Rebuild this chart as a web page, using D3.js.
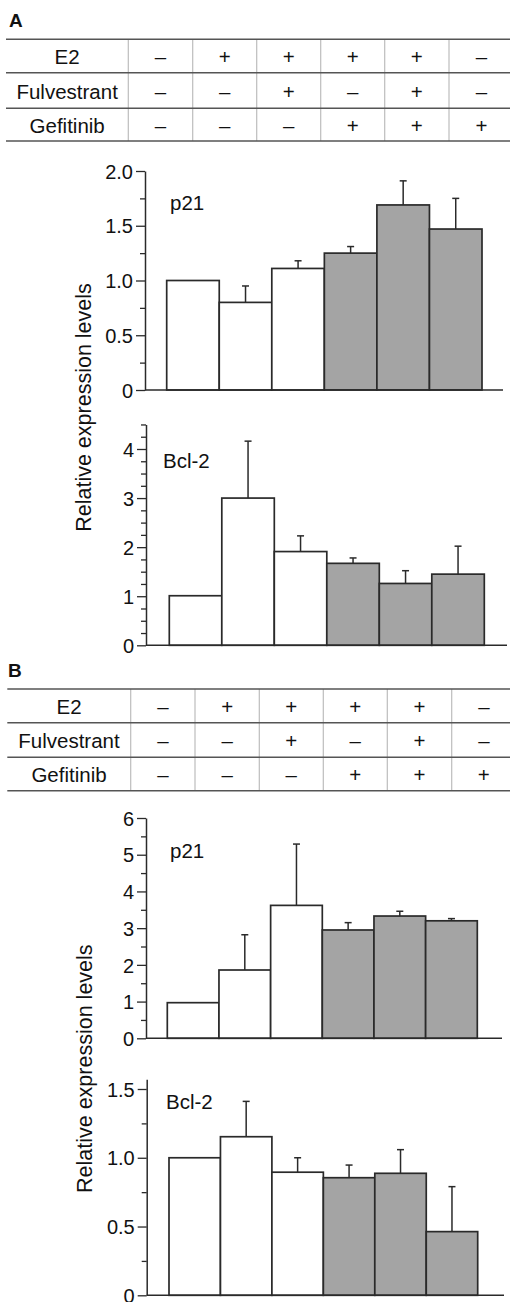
<!DOCTYPE html>
<html>
<head>
<meta charset="utf-8">
<script src="https://cdn.jsdelivr.net/npm/d3@7"></script>
<style>
  body { margin: 0; background: #fff; }
  text { font-family: "Liberation Sans", Arial, Helvetica, sans-serif; fill: #111; }
</style>
</head>
<body>
<div id="fig"></div>
<script>
// treatment table (same for A and B)
var treatments = ["E2", "Fulvestrant", "Gefitinib"];
var signs = [
  ["–", "+", "+", "+", "+", "–"],
  ["–", "–", "+", "–", "+", "–"],
  ["–", "–", "–", "+", "+", "+"]
];
var gefitinib = [false, false, false, true, true, true];

// panel A
var aP21 = [1.0, 0.80, 1.11, 1.25, 1.69, 1.47];
var aP21Err = [0, 0.15, 0.07, 0.06, 0.22, 0.28];
var aBcl2 = [1.01, 3.0, 1.91, 1.67, 1.26, 1.45];
var aBcl2Err = [0, 1.16, 0.32, 0.11, 0.26, 0.57];

// panel B
var bP21 = [0.97, 1.86, 3.62, 2.95, 3.33, 3.20];
var bP21Err = [0, 0.96, 1.67, 0.20, 0.13, 0.06];
var bBcl2 = [1.0, 1.153, 0.895, 0.855, 0.887, 0.463];
var bBcl2Err = [0, 0.257, 0.105, 0.092, 0.172, 0.327];

var white = "#ffffff", gray = "#a4a4a4", ink = "#2a2a2a";

var svg = d3.select("#fig").append("svg")
  .attr("width", 510).attr("height", 1302);

function fmt(d) { return d === 0 ? "0" : d3.format(".1f")(d) }
function fmtInt(d) { return d3.format("d")(d) }

function drawTable(letter, lx, ly, rows, cols) {
  svg.append("text").attr("x", lx).attr("y", ly)
    .style("font-size", "19px").style("font-weight", "bold").text(letter);

  var g = svg.append("g");
  // vertical light lines
  g.selectAll("line.v").data(cols.slice(1, cols.length - 1)).enter().append("line")
    .attr("x1", function(d) { return d }).attr("x2", function(d) { return d })
    .attr("y1", rows[0]).attr("y2", rows[rows.length - 1])
    .style("stroke", "#bdbdbd").style("stroke-width", 1.2);
  // horizontal dark lines
  g.selectAll("line.h").data(rows).enter().append("line")
    .attr("x1", cols[0]).attr("x2", cols[cols.length - 1])
    .attr("y1", function(d) { return d }).attr("y2", function(d) { return d })
    .style("stroke", "#555").style("stroke-width", 1.4);

  treatments.forEach(function(t, r) {
    var cy = (rows[r] + rows[r + 1]) / 2 + 8;
    g.append("text").attr("x", (cols[0] + cols[1]) / 2).attr("y", cy)
      .attr("text-anchor", "middle").style("font-size", "20.5px").text(t);
    g.selectAll("text.s" + r).data(signs[r]).enter().append("text")
      .attr("x", function(d, i) { return (cols[i + 1] + cols[i + 2]) / 2 })
      .attr("y", cy)
      .attr("text-anchor", "middle").style("font-size", "20.5px")
      .text(function(d) { return d });
  });
}

function drawChart(o) {
  var g = svg.append("g");
  var y = d3.scaleLinear().domain([0, o.top]).range([o.y0, o.y0 - (o.top / o.refVal) * (o.y0 - o.yRef)]);
  var x = d3.scaleBand().domain(d3.range(o.values.length)).range(o.bars).padding(0);
  var rows = o.values.map(function(v, i) { return { i: i, v: v, e: o.errs[i] } });

  // minor ticks
  g.append("g").attr("transform", "translate(" + o.ax + ",0)")
    .call(d3.axisLeft(y).tickValues(o.minor).tickSize(5).tickSizeOuter(0).tickFormat(""))
    .call(function(s) {
      s.select(".domain").remove();
      s.selectAll("line").style("stroke", ink).style("stroke-width", 1.3);
    });
  // major ticks + axis line
  g.append("g").attr("transform", "translate(" + o.ax + ",0)")
    .call(d3.axisLeft(y).tickValues(o.major).tickSize(9).tickSizeOuter(0).tickPadding(3).tickFormat(o.format))
    .call(function(s) {
      s.select(".domain").style("stroke", ink).style("stroke-width", 1.5);
      s.selectAll("line").style("stroke", ink).style("stroke-width", 1.3);
      s.selectAll("text").style("font-size", "20px").style("fill", "#111")
        .style("font-family", '"Liberation Sans", Arial, sans-serif')
        .attr("dy", "0.36em");
    });

  // error bars (upper only)
  var err = g.selectAll("g.err").data(rows.filter(function(d) { return d.e > 0 }))
    .enter().append("g").attr("class", "err");
  err.append("line")
    .attr("x1", function(d) { return x(d.i) + x.bandwidth() / 2 })
    .attr("x2", function(d) { return x(d.i) + x.bandwidth() / 2 })
    .attr("y1", function(d) { return y(d.v) })
    .attr("y2", function(d) { return y(d.v + d.e) })
    .style("stroke", ink).style("stroke-width", 1.5);
  err.append("line")
    .attr("x1", function(d) { return x(d.i) + x.bandwidth() / 2 - 3.5 })
    .attr("x2", function(d) { return x(d.i) + x.bandwidth() / 2 + 3.5 })
    .attr("y1", function(d) { return y(d.v + d.e) })
    .attr("y2", function(d) { return y(d.v + d.e) })
    .style("stroke", ink).style("stroke-width", 1.5);

  // bars
  g.selectAll("rect").data(rows).enter().append("rect")
    .attr("x", function(d) { return x(d.i) })
    .attr("width", x.bandwidth())
    .attr("y", function(d) { return y(d.v) })
    .attr("height", function(d) { return o.y0 - y(d.v) })
    .style("fill", function(d) { return gefitinib[d.i] ? gray : white })
    .style("stroke", ink).style("stroke-width", 1.7);

  // baseline
  g.append("line").attr("x1", o.ax).attr("x2", o.xEnd)
    .attr("y1", o.y0).attr("y2", o.y0)
    .style("stroke", ink).style("stroke-width", 1.5);

  g.append("text").attr("x", o.label[0]).attr("y", o.label[1])
    .style("font-size", "20.5px").text(o.name);
}

function yLabel(x, y) {
  svg.append("text")
    .attr("transform", "translate(" + x + "," + y + ") rotate(-90)")
    .attr("text-anchor", "middle")
    .style("font-size", "21.5px")
    .text("Relative expression levels");
}

// ---- A ----
drawTable("A", 9, 26.7, [39.3, 72.7, 108.3, 141], [6, 128.3, 192.7, 256.7, 320.7, 384.7, 449, 514]);

drawChart({ name: "p21", values: aP21, errs: aP21Err, top: 2, refVal: 2, yRef: 171, y0: 390,
  ax: 145, xEnd: 503, bars: [166.7, 482], label: [170, 210],
  major: [0, 0.5, 1, 1.5, 2], minor: [0.25, 0.75, 1.25, 1.75], format: fmt });

drawChart({ name: "Bcl-2", values: aBcl2, errs: aBcl2Err, top: 4.5, refVal: 4, yRef: 449, y0: 645.3,
  ax: 146, xEnd: 507, bars: [169.3, 484.3], label: [163, 468],
  major: [0, 1, 2, 3, 4], minor: d3.range(0.25, 4.51, 0.25).filter(function(v) { return v % 1 !== 0 }),
  format: fmtInt });

yLabel(91, 407.5);

// ---- B ----
drawTable("B", 8, 676.7, [689, 722.7, 757.3, 790.7], [7.3, 130.7, 195, 259.3, 323.3, 387.3, 451.7, 516]);

drawChart({ name: "p21", values: bP21, errs: bP21Err, top: 6, refVal: 6, yRef: 818, y0: 1038.3,
  ax: 146, xEnd: 502, bars: [167.3, 477.3], label: [170, 858],
  major: [0, 1, 2, 3, 4, 5, 6], minor: [0.5, 1.5, 2.5, 3.5, 4.5, 5.5], format: fmtInt });

drawChart({ name: "Bcl-2", values: bBcl2, errs: bBcl2Err, top: 1.57, refVal: 1.5, yRef: 1089, y0: 1295.3,
  ax: 146.7, xEnd: 504, bars: [169, 477.7], label: [166, 1109],
  major: [0, 0.5, 1, 1.5], minor: [0.25, 0.75, 1.25], format: fmt });

yLabel(91.7, 1068.7);
</script>
</body>
</html>
